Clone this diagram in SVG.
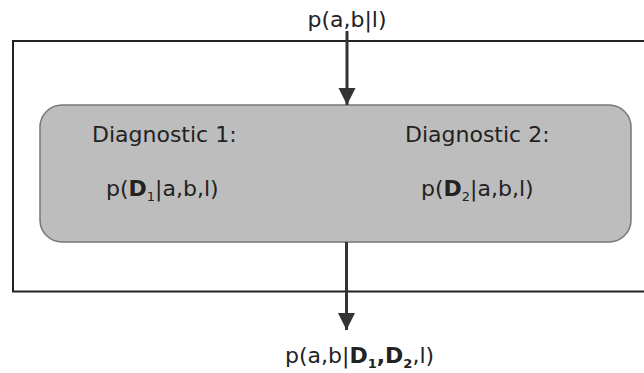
<svg xmlns="http://www.w3.org/2000/svg" width="644" height="373" viewBox="0 0 644 373">
<style>
text{font-family:"DejaVu Sans",sans-serif;font-size:22px;fill:#222}
.b{font-weight:bold}
.s{font-size:13px}
.conn{stroke:#333;stroke-width:3;fill:none}
</style>
<defs>
<marker id="ah" markerUnits="userSpaceOnUse" markerWidth="18" markerHeight="24" refX="17" refY="8.5" orient="auto">
<path d="M0,0 L17,8.5 L0,17 Z" fill="#333"/>
</marker>
</defs>
<rect width="644" height="373" fill="#fff"/>
<g id="frame">
<path d="M660,41 L13,41 L13,291.5 L660,291.5" fill="none" stroke="#222" stroke-width="2"/>
</g>
<g id="diagnostics">
<rect x="40" y="105" width="591" height="137" rx="22" ry="22" fill="#bdbdbd" stroke="#777" stroke-width="1.5"/>
<text x="92" y="142">Diagnostic 1:</text>
<text x="106" y="196">p(<tspan class="b">D</tspan><tspan class="s" dy="5">1</tspan><tspan dy="-5">|a,b,l)</tspan></text>
<text x="405" y="142">Diagnostic 2:</text>
<text x="421" y="196">p(<tspan class="b">D</tspan><tspan class="s" dy="5">2</tspan><tspan dy="-5">|a,b,l)</tspan></text>
</g>
<g id="prior">
<text x="347" y="27" text-anchor="middle">p(a,b|l)</text>
</g>
<g id="posterior">
<text x="285" y="363">p(a,b|<tspan class="b">D</tspan><tspan class="s b" dy="5">1</tspan><tspan class="b" dy="-5">,D</tspan><tspan class="s b" dy="5">2</tspan><tspan dy="-5">,l)</tspan></text>
</g>
<g id="connectors">
<line class="conn" x1="347" y1="31" x2="347" y2="105" marker-end="url(#ah)"/>
<line class="conn" x1="346.5" y1="242" x2="346.5" y2="330" marker-end="url(#ah)"/>
</g>
</svg>
